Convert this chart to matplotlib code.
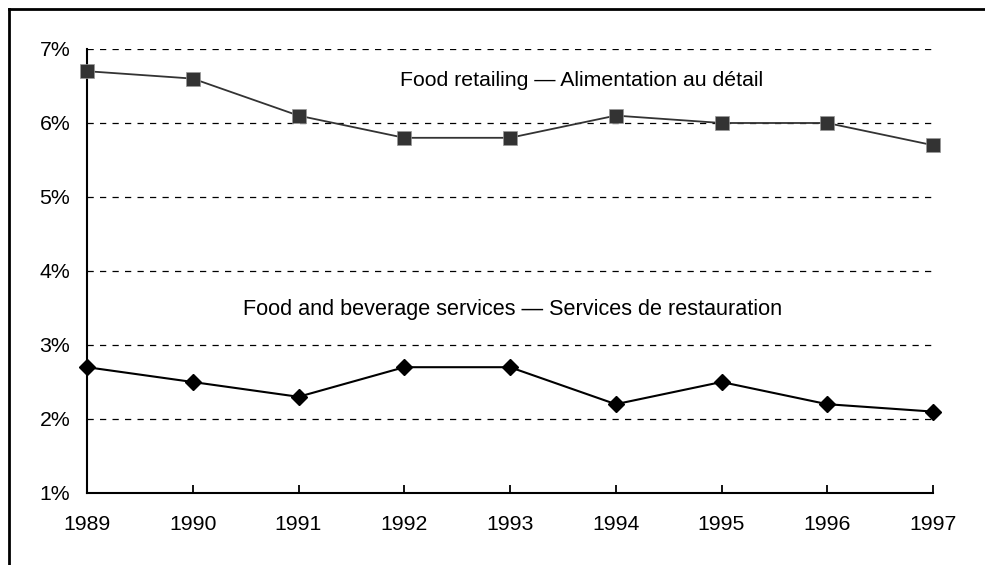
import matplotlib
matplotlib.use("Agg")
import matplotlib.pyplot as plt
from matplotlib.lines import Line2D

plt.rcParams['font.family'] = ['Liberation Sans', 'DejaVu Sans']

years = [1989, 1990, 1991, 1992, 1993, 1994, 1995, 1996, 1997]
retail = [6.7, 6.6, 6.1, 5.8, 5.8, 6.1, 6.0, 6.0, 5.7]
services = [2.7, 2.5, 2.3, 2.7, 2.7, 2.2, 2.5, 2.2, 2.1]
yticks = [1, 2, 3, 4, 5, 6, 7]

fig = plt.figure(figsize=(9.85, 5.65), dpi=100)
ax = fig.add_axes([87/985, 1 - 493/565, (933 - 87)/985, (493 - 49)/565])

# dashed gridlines
for v in yticks[1:]:
    ax.axhline(v, color='black', lw=0.9, dashes=(5, 5), zorder=1)

ax.plot(years, retail, color='#333333', lw=1.3, marker='s', markersize=9.5,
        markerfacecolor='#333333', markeredgecolor='#999999', markeredgewidth=0.5,
        zorder=3, clip_on=False)
ax.plot(years, services, color='black', lw=1.5, marker='D', markersize=8,
        markerfacecolor='black', markeredgecolor='black', zorder=3, clip_on=False)

ax.set_xlim(1989, 1997)
ax.set_ylim(1, 7)
ax.set_xticks(years)
ax.set_xticklabels([str(y) for y in years], fontsize=15.3)
ax.set_yticks(yticks)
ax.set_yticklabels([f'{v}%' for v in yticks], fontsize=15.3)
ax.tick_params(axis='x', direction='in', length=6, width=1.3, pad=16)
ax.tick_params(axis='y', length=0, pad=12)

for s in ['top', 'right']:
    ax.spines[s].set_visible(False)
ax.spines['left'].set_linewidth(1.5)
ax.spines['bottom'].set_linewidth(1.5)

ax.text(1993.68, 6.58, 'Food retailing — Alimentation au détail', fontsize=15.3,
        ha='center', va='center')
ax.text(1993.02, 3.48, 'Food and beverage services — Services de restauration', fontsize=15.6,
        ha='center', va='center')

# outer frame (left and top only)
fig.add_artist(Line2D([8.5/985, 8.5/985], [0, 1 - 9/565], color='black', lw=2))
fig.add_artist(Line2D([8.5/985, 1], [1 - 9/565, 1 - 9/565], color='black', lw=2))

fig.savefig('out.png', dpi=100)
